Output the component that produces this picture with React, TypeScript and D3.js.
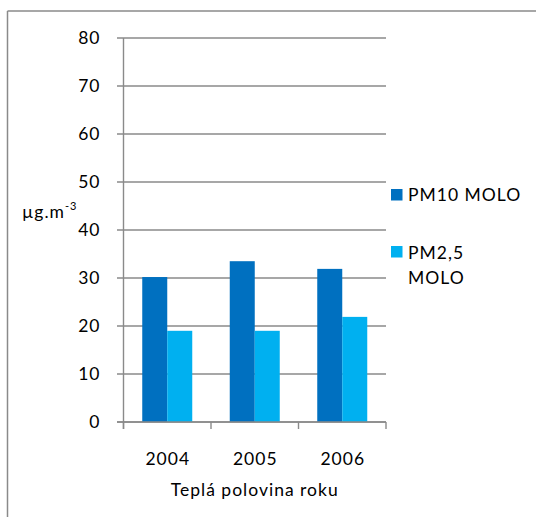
import React from "react";
import * as d3 from "d3";

const categories = ["2004", "2005", "2006"];
const seriesNames = ["PM10 MOLO", "PM2,5 MOLO"];
const pm10 = [30.2, 33.5, 31.9];
const pm25 = [19.0, 19.0, 21.9];
const yTicks = [0, 10, 20, 30, 40, 50, 60, 70, 80];
const colors = ["#0070C0", "#00B0F0"];

const W = 536;
const H = 517;
const left = 123.5;
const right = 386;
const top = 38;
const bottom = 422;
const font = "Lato, 'Open Sans', sans-serif";
const grid = "#8a8a8a";
const fs = 17.5;
const ls = 1;

export default function App() {
  const x = d3.scaleBand<string>().domain(categories).range([left, right]).paddingInner(0).paddingOuter(0);
  const inner = d3.scaleBand<number>().domain([0, 1]).range([0, x.bandwidth()]).paddingOuter(0.75).paddingInner(0);
  const y = d3.scaleLinear().domain([0, 80]).range([bottom, top]);
  const series = [pm10, pm25];
  const boundaries = [...categories.map((c) => x(c) as number), right];

  return (
    <svg width={W} height={H} style={{ position: "absolute", left: 0, top: 0 }} fontFamily={font} letterSpacing={ls}>
      <rect x={0} y={0} width={W} height={H} fill="#fff" />
      <line x1={7.5} y1={11} x2={W + 5} y2={11} stroke={grid} strokeWidth={1.5} />
      <line x1={7.5} y1={11} x2={7.5} y2={H + 5} stroke={grid} strokeWidth={1.5} />
      {yTicks.map((t) => (
        <g key={t}>
          <line x1={left - 6.5} x2={right} y1={y(t)} y2={y(t)} stroke={grid} strokeWidth={1.4} />
          <text x={100.5} y={y(t)} dy="0.36em" textAnchor="end" fontSize={fs} fill="#000">
            {t}
          </text>
        </g>
      ))}
      {categories.map((c, i) =>
        series.map((s, k) => (
          <rect
            key={c + k}
            x={(x(c) as number) + (inner(k) as number)}
            y={y(s[i])}
            width={inner.bandwidth()}
            height={bottom - y(s[i])}
            fill={colors[k]}
          />
        ))
      )}
      <line x1={left} x2={left} y1={top} y2={bottom + 7} stroke={grid} strokeWidth={1.4} />
      <line x1={left - 6.5} x2={right} y1={bottom} y2={bottom} stroke={grid} strokeWidth={1.4} />
      {boundaries.map((b, i) => (
        <line key={i} x1={b} x2={b} y1={bottom} y2={bottom + 7} stroke={grid} strokeWidth={1.4} />
      ))}
      {categories.map((c) => (
        <text key={c} x={(x(c) as number) + x.bandwidth() / 2 + ls / 2} y={464.5} textAnchor="middle" fontSize={fs} fill="#000">
          {c}
        </text>
      ))}
      <text x={(left + right) / 2} y={496} textAnchor="middle" fontSize={fs} fill="#000">
        Teplá polovina roku
      </text>
      <text x={22} y={218} fontSize={fs} fill="#000">
        µg.m<tspan fontSize={11} dy={-8}>-3</tspan>
      </text>
      <rect x={391} y={189} width={11.5} height={11.5} fill={colors[0]} />
      <text x={408} y={200.7} fontSize={fs} fill="#000">
        {seriesNames[0]}
      </text>
      <rect x={391} y={246} width={11.5} height={11.5} fill={colors[1]} />
      <text x={408} y={259} fontSize={fs} fill="#000">
        {seriesNames[1].split(" ")[0]}
      </text>
      <text x={408} y={283.5} fontSize={fs} fill="#000">
        {seriesNames[1].split(" ")[1]}
      </text>
    </svg>
  );
}
